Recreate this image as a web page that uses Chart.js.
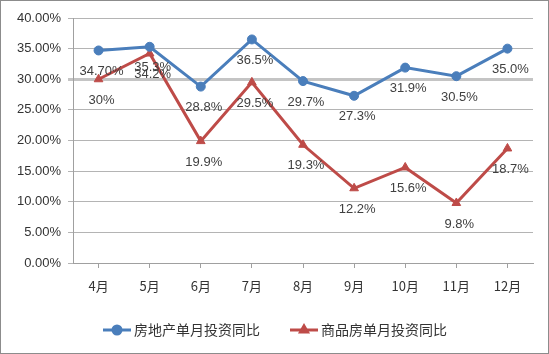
<!DOCTYPE html>
<html>
<head>
<meta charset="utf-8">
<script src="https://cdn.jsdelivr.net/npm/chart.js@4/dist/chart.umd.min.js"></script>
<style>
  html, body { margin: 0; padding: 0; background: #fff; }
  #wrap { width: 549px; height: 354px; }
</style>
</head>
<body>
<div id="wrap"><canvas id="chart" width="549" height="354"></canvas></div>
<script>
// data
const months = ['4月', '5月', '6月', '7月', '8月', '9月', '10月', '11月', '12月'];
const realEstate = [34.7, 35.3, 28.8, 36.5, 29.7, 27.3, 31.9, 30.5, 35.0];
const realEstateLabels = ['34.70%', '35.3%', '28.8%', '36.5%', '29.7%', '27.3%', '31.9%', '30.5%', '35.0%'];
const housing = [30, 34.2, 19.9, 29.5, 19.3, 12.2, 15.6, 9.8, 18.7];
const housingLabels = ['30%', '34.2%', '19.9%', '29.5%', '19.3%', '12.2%', '15.6%', '9.8%', '18.7%'];
const seriesNames = ['房地产单月投资同比', '商品房单月投资同比'];

const BLUE = '#4a7ebb';
const RED = '#be4b48';
const numFont = '"Liberation Sans", Arial, sans-serif';
const cjkFont = '"Noto Sans CJK SC", "Liberation Sans", sans-serif';

// value labels under each point
const pointLabels = {
    id: 'pointLabels',
    afterDatasetsDraw(chart) {
        const ctx = chart.ctx;
        ctx.save();
        ctx.font = '13px ' + numFont;
        ctx.fillStyle = '#404040';
        ctx.textAlign = 'center';
        ctx.textBaseline = 'middle';
        chart.data.datasets.forEach((ds, i) => {
            const meta = chart.getDatasetMeta(i);
            meta.data.forEach((pt, j) => {
                ctx.fillText(ds.valueLabels[j], pt.x + 3, pt.y + 21);
            });
        });
        ctx.restore();
    }
};

// legend with line + marker, plus outer frame
const frameAndLegend = {
    id: 'frameAndLegend',
    afterDraw(chart) {
        const ctx = chart.ctx;
        ctx.save();
        const items = [
            { x: 103, color: BLUE, style: 'circle', text: seriesNames[0] },
            { x: 290, color: RED, style: 'triangle', text: seriesNames[1] }
        ];
        const y = 330;
        items.forEach(it => {
            ctx.strokeStyle = it.color;
            ctx.lineWidth = 3;
            ctx.beginPath();
            ctx.moveTo(it.x, y);
            ctx.lineTo(it.x + 28, y);
            ctx.stroke();
            ctx.fillStyle = it.color;
            Chart.helpers.drawPoint(ctx, { pointStyle: it.style, radius: 4, borderWidth: 1 }, it.x + 14, y);
            ctx.fillStyle = '#333';
            ctx.font = '14px ' + cjkFont;
            ctx.textAlign = 'left';
            ctx.textBaseline = 'middle';
            ctx.fillText(it.text, it.x + 31, y);
        });
        ctx.strokeStyle = '#8c8c8c';
        ctx.lineWidth = 1;
        ctx.strokeRect(0.5, 0.5, chart.width - 1, chart.height - 1);
        ctx.restore();
    }
};

new Chart(document.getElementById('chart'), {
    type: 'line',
    data: {
        labels: months,
        datasets: [
            {
                label: seriesNames[0],
                data: realEstate,
                valueLabels: realEstateLabels,
                borderColor: BLUE,
                backgroundColor: BLUE,
                borderWidth: 3,
                pointStyle: 'circle',
                pointRadius: 4.5,
                pointBorderWidth: 1,
                tension: 0
            },
            {
                label: seriesNames[1],
                data: housing,
                valueLabels: housingLabels,
                borderColor: RED,
                backgroundColor: RED,
                borderWidth: 3,
                pointStyle: 'triangle',
                pointRadius: 5,
                pointBorderWidth: 1,
                tension: 0
            }
        ]
    },
    options: {
        responsive: false,
        animation: false,
        layout: { padding: { top: 18, right: 16, bottom: 0, left: 0 } },
        plugins: {
            legend: { display: false },
            tooltip: { enabled: false }
        },
        scales: {
            x: {
                offset: true,
                grid: { drawOnChartArea: false, drawTicks: true, tickLength: 5, color: '#a0a0a0' },
                border: { color: '#a0a0a0' },
                ticks: { color: '#333', font: { size: 13, family: cjkFont }, padding: 10, maxRotation: 0 },
                afterFit(scale) { scale.height = 91; }
            },
            y: {
                min: 0,
                max: 40,
                ticks: {
                    stepSize: 5,
                    color: '#333',
                    font: { size: 13, family: numFont },
                    padding: 7,
                    callback: v => v.toFixed(2) + '%'
                },
                grid: {
                    tickLength: 5,
                    color: c => (c.tick && c.tick.value === 30) ? '#c4c4c4' : '#b4b4b4',
                    lineWidth: c => (c.tick && c.tick.value === 30) ? 3 : 1
                },
                border: { color: '#a0a0a0' },
                afterFit(scale) { scale.width = 73; }
            }
        }
    },
    plugins: [pointLabels, frameAndLegend]
});
</script>
</body>
</html>
